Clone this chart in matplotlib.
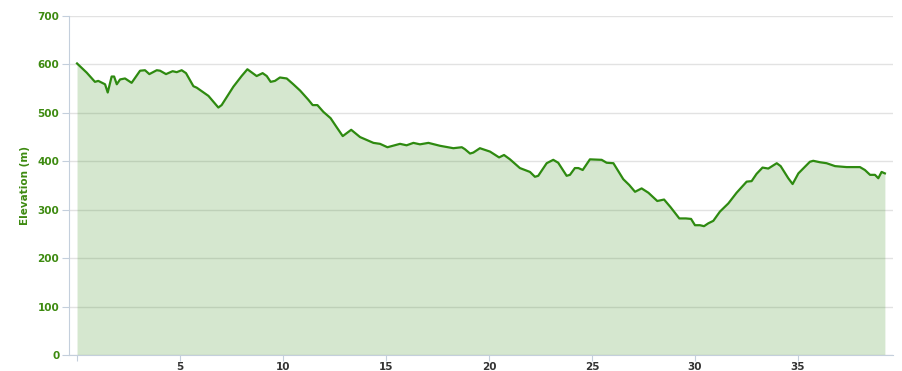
import matplotlib
matplotlib.use("Agg")
import matplotlib.pyplot as plt

# distance (km) and elevation (m)
dist_km = [0.0, 0.47, 0.87, 1.03, 1.36, 1.49, 1.68, 1.8, 1.93, 2.09, 2.33, 2.65,
           3.06, 3.3, 3.51, 3.87, 4.03, 4.32, 4.64, 4.84, 5.08, 5.29, 5.65, 5.81,
           6.38, 6.62, 6.86, 7.02, 7.59, 7.99, 8.27, 8.72, 9.01, 9.21, 9.4, 9.61,
           9.85, 10.18, 10.5, 10.83, 11.23, 11.44, 11.67, 11.96, 12.31, 12.61,
           12.9, 13.31, 13.74, 14.39, 14.71, 15.07, 15.68, 16.0, 16.33, 16.65,
           17.06, 17.62, 18.27, 18.68, 18.83, 19.08, 19.24, 19.56, 20.05, 20.49,
           20.73, 21.02, 21.5, 21.99, 22.23, 22.39, 22.8, 23.12, 23.36, 23.77,
           23.93, 24.17, 24.34, 24.55, 24.9, 25.47, 25.71, 26.04, 26.52, 26.81,
           27.09, 27.41, 27.74, 28.17, 28.5, 28.82, 29.24, 29.56, 29.81, 30.0,
           30.24, 30.44, 30.65, 30.89, 31.21, 31.62, 32.02, 32.51, 32.75, 32.99,
           33.28, 33.56, 33.97, 34.16, 34.53, 34.74, 35.02, 35.58, 35.74, 36.07,
           36.39, 36.8, 37.36, 38.01, 38.25, 38.5, 38.74, 38.9, 39.06, 39.22]
elev_m = [602, 583, 564, 566, 559, 542, 575, 575, 559, 569, 571, 562,
          587, 588, 580, 588, 587, 580, 586, 584, 588, 582, 555, 552,
          535, 523, 511, 516, 554, 576, 590, 576, 582, 576, 564, 566,
          573, 571, 559, 546, 527, 516, 516, 502, 489, 470,
          452, 465, 450, 438, 436, 429, 436, 433, 438, 435,
          438, 432, 427, 429, 425, 416, 418, 427, 420, 408,
          413, 404, 386, 378, 368, 370, 396, 403, 397, 370,
          372, 386, 386, 382, 404, 403, 397, 396, 363, 351,
          337, 344, 335, 318, 321, 305, 282, 282, 281, 268,
          268, 266, 272, 277, 296, 313, 335, 358, 359, 374,
          387, 385, 396, 390, 365, 353, 375, 399, 401, 398,
          396, 390, 388, 388, 382, 372, 372, 365, 378, 375]

x_ticks = [0, 5, 10, 15, 20, 25, 30, 35]
x_labels = ["", "5", "10", "15", "20", "25", "30", "35"]
y_ticks = [0, 100, 200, 300, 400, 500, 600, 700]

line_col = "#2e8a10"
axis_col = "#c4cfdc"

fig = plt.figure(figsize=(9.02, 3.71), dpi=100)
ax = fig.add_axes([0.0765, 0.0431, 0.9132, 0.9138])

ax.fill_between(dist_km, elev_m, 0, color=line_col, alpha=0.2, linewidth=0, zorder=2)
ax.plot(dist_km, elev_m, color=line_col, linewidth=1.6, zorder=3)

ax.set_xlim(-0.39, 39.6)
ax.set_ylim(0, 700)
ax.set_xticks(x_ticks)
ax.set_xticklabels(x_labels)
ax.set_yticks(y_ticks)

ax.grid(axis="y", color="#e2e2e2", linewidth=1, zorder=1)
ax.set_axisbelow(True)

for side in ["top", "right"]:
    ax.spines[side].set_visible(False)
ax.spines["left"].set_color(axis_col)
ax.spines["bottom"].set_color(axis_col)

ax.tick_params(axis="x", colors=axis_col, length=4, labelcolor="#333333",
               labelsize=7.5, pad=1)
ax.tick_params(axis="y", colors=axis_col, length=5, labelcolor="#3d8a10",
               labelsize=7.5, pad=2)
for lab in ax.get_xticklabels() + ax.get_yticklabels():
    lab.set_fontweight("bold")

ax.set_ylabel("Elevation (m)", color="#3d8a10", fontsize=7.5, fontweight="bold", labelpad=5)

fig.savefig("out.png", dpi=100)
